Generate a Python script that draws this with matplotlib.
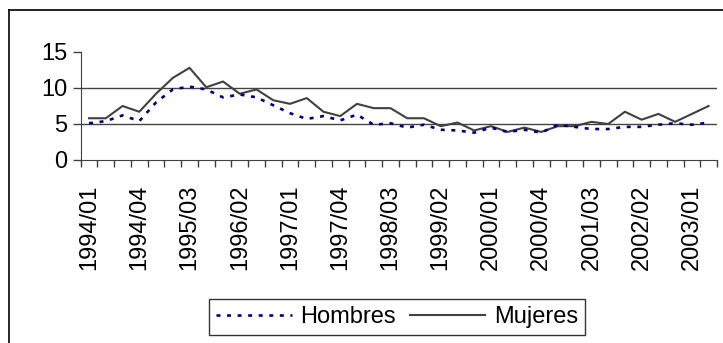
import matplotlib
matplotlib.use("Agg")
import matplotlib.pyplot as plt
from matplotlib.lines import Line2D

# quarterly series, 1994/01 .. 2003/02
periods = [f"{y}/{q:02d}" for y in range(1994, 2004) for q in range(1, 5)][:38]

hombres = [5.1, 5.4, 6.2, 5.4, 8.0, 9.8, 10.2, 9.8, 8.7, 9.1,
           8.7, 7.6, 6.5, 5.7, 6.1, 5.5, 6.3, 4.9, 5.1, 4.5,
           4.9, 4.2, 4.1, 3.8, 4.5, 3.9, 4.2, 3.8, 4.9, 4.6,
           4.3, 4.3, 4.6, 4.6, 4.9, 5.1, 4.9, 5.2]
mujeres = [5.8, 5.8, 7.5, 6.7, 9.2, 11.4, 12.8, 10.1, 10.9, 9.2,
           9.8, 8.3, 7.8, 8.6, 6.7, 6.1, 7.8, 7.2, 7.2, 5.8,
           5.8, 4.7, 5.2, 4.1, 4.7, 3.9, 4.5, 3.9, 4.7, 4.7,
           5.3, 5.0, 6.7, 5.6, 6.4, 5.3, 6.4, 7.5]

yticks = [0, 5, 10, 15]
label_every = 3

plt.rcParams["font.family"] = ["Liberation Sans", "DejaVu Sans"]
FS = 17

fig = plt.figure(figsize=(7.23, 3.43), dpi=100)

# chart area border (only top and left visible in the original)
fig.add_artist(Line2D([9 / 723, 1], [1 - 10 / 343, 1 - 10 / 343],
                      color="black", lw=1.2, transform=fig.transFigure))
fig.add_artist(Line2D([9 / 723, 9 / 723], [0, 1 - 10 / 343],
                      color="black", lw=1.2, transform=fig.transFigure))

ax = fig.add_axes([80.7 / 723, 183 / 343, (717 - 80.7) / 723, 108 / 343])
x = list(range(len(periods)))

for v in yticks[1:-1]:
    ax.axhline(v, color="#444444", lw=1.0, zorder=1)

ax.plot(x, hombres, color="#000080", lw=1.9, linestyle=(0, (1.5, 2.5)),
        dash_capstyle="butt", label="Hombres", zorder=3)
ax.plot(x, mujeres, color="#404040", lw=1.5, label="Mujeres", zorder=2)

ax.set_xlim(-0.5, len(periods) - 0.5)
ax.set_ylim(0, 15)

for s in ["top", "right"]:
    ax.spines[s].set_visible(False)
ax.spines["left"].set_color("#404040")
ax.spines["bottom"].set_color("#404040")

ax.set_yticks(yticks)
ax.set_yticklabels([str(v) for v in yticks], fontsize=FS)
ax.tick_params(axis="y", length=6, width=1, color="#404040", pad=3.5)

ax.set_xticks([i - 0.5 for i in range(len(periods) + 1)], minor=True)
ax.set_xticks(x[::label_every])
ax.set_xticklabels(periods[::label_every], rotation=90, fontsize=FS)
ax.tick_params(axis="x", which="major", length=0, pad=18)
ax.tick_params(axis="x", which="minor", length=5, width=1, color="#404040")

leg = fig.legend(loc="center", bbox_to_anchor=(397 / 723, 1 - 317 / 343),
                 ncol=2, fontsize=FS, frameon=True, fancybox=False,
                 edgecolor="black", handlelength=3.2, handletextpad=0.35,
                 columnspacing=0.6, borderpad=0.3, borderaxespad=0)
leg.get_frame().set_linewidth(1.0)

fig.savefig("out.png", dpi=100, facecolor="white")
